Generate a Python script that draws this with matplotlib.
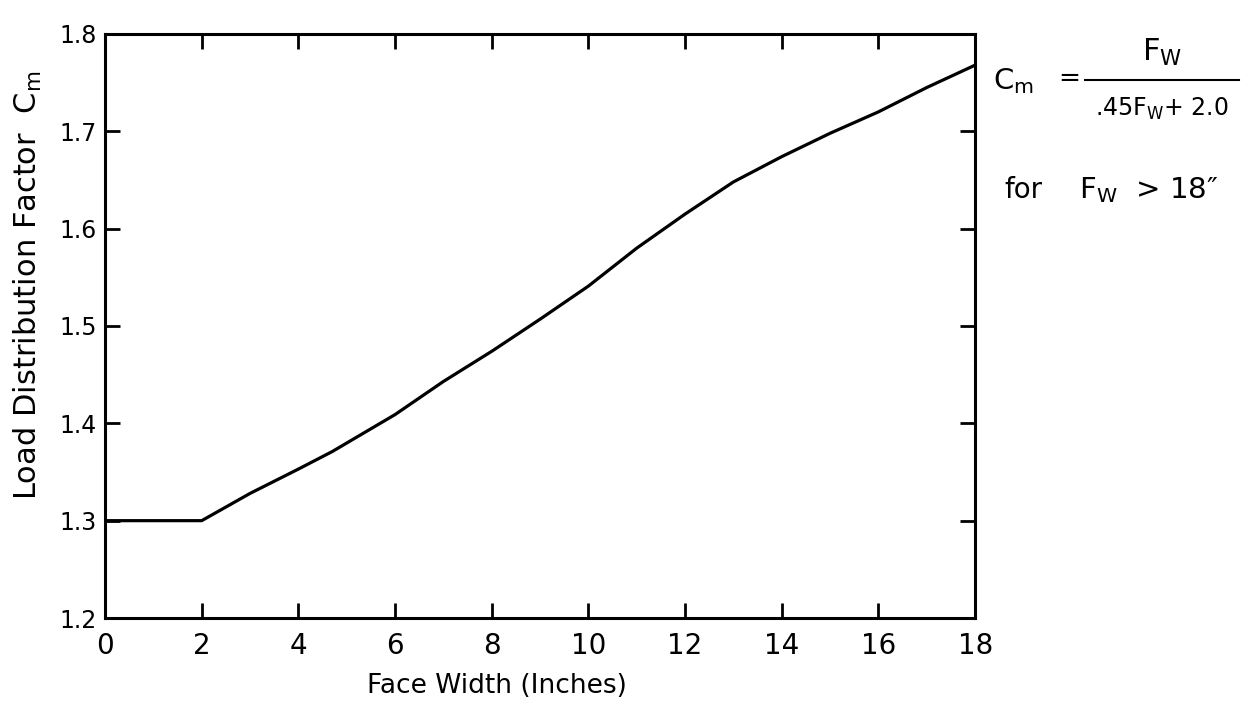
import numpy as np
import matplotlib
matplotlib.use('Agg')
import matplotlib.pyplot as plt
from matplotlib.lines import Line2D

# curve
face_width = [0, 2, 3, 4, 4.7, 6, 7, 8, 9, 10, 11, 12, 13, 14, 15, 16, 17, 18]
cm_factor = [1.30, 1.30, 1.328, 1.353, 1.371, 1.409, 1.443, 1.474, 1.507, 1.541,
             1.580, 1.615, 1.648, 1.674, 1.698, 1.720, 1.745, 1.768]

x_ticks = [0, 2, 4, 6, 8, 10, 12, 14, 16, 18]
y_ticks = [1.2, 1.3, 1.4, 1.5, 1.6, 1.7, 1.8]
y_tick_labels = ['1.2', '1.3', '1.4', '1.5', '1.6', '1.7', '1.8']

plt.rcParams['font.family'] = ['DejaVu Sans']
plt.rcParams['mathtext.fontset'] = 'dejavusans'

fig = plt.figure(figsize=(12.43, 7.05), dpi=100)
ax = fig.add_axes([0.0845, 0.1234, 0.7, 0.8284])

ax.plot(face_width, cm_factor, color='black', lw=2.3, solid_joinstyle='round')

ax.set_xlim(0, 18)
ax.set_ylim(1.2, 1.8)
ax.set_xticks(x_ticks)
ax.set_yticks(y_ticks)
ax.set_yticklabels(y_tick_labels)
ax.tick_params(direction='in', length=11, width=2, top=True, right=True,
               colors='black')
ax.tick_params(axis='x', labelsize=20, pad=10)
ax.tick_params(axis='y', labelsize=17, pad=6)
for s in ax.spines.values():
    s.set_linewidth(2.2)

ax.set_xlabel('Face Width (Inches)', fontsize=19)
ax.xaxis.set_label_coords(0.45, -0.095)
ax.set_ylabel(r'Load Distribution Factor  C$_{\mathrm{m}}$', fontsize=22)
ax.yaxis.set_label_coords(-0.07, 0.57)

# formula at the right
fig.text(0.799, 0.885, r'C$_{\mathrm{m}}$', fontsize=21, va='center', ha='left')
fig.text(0.851, 0.888, '=', fontsize=19, va='center', ha='left')
fig.text(0.935, 0.925, r'F$_{\mathrm{W}}$', fontsize=22, va='center', ha='center')
fig.add_artist(Line2D([0.873, 0.997], [0.886, 0.886], color='black', lw=1.5,
                      transform=fig.transFigure))
fig.text(0.935, 0.845, r'.45F$_{\mathrm{W}}$+ 2.0', fontsize=17, va='center', ha='center')
fig.text(0.808, 0.73, 'for', fontsize=20, va='center', ha='left')
fig.text(0.868, 0.73, 'F$_{\\mathrm{W}}$  > 18\u2033', fontsize=21, va='center', ha='left')

fig.savefig('out.png', dpi=100)
